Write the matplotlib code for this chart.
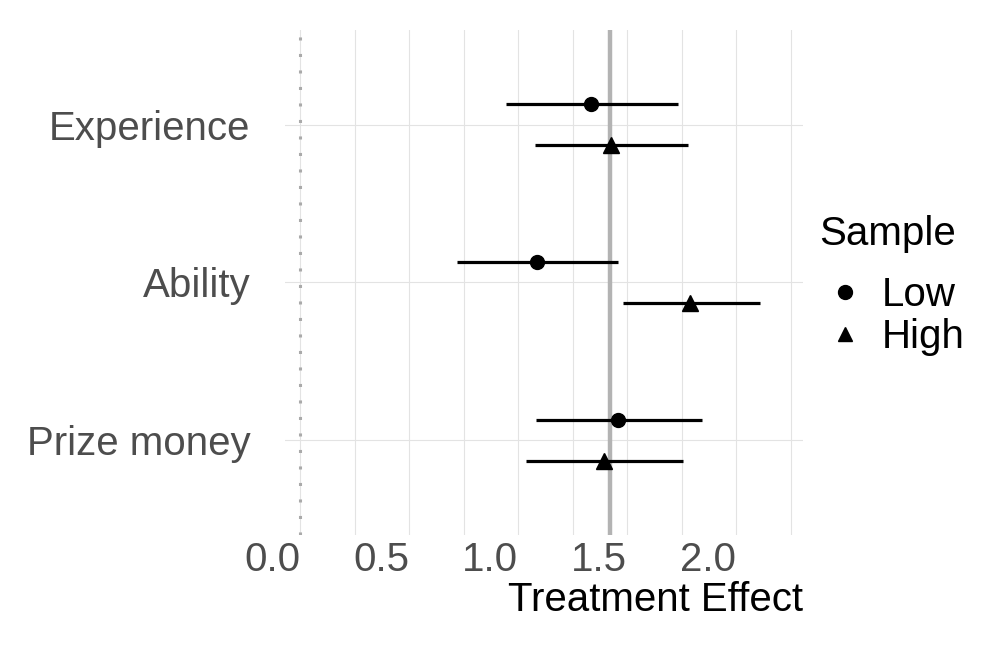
import numpy as np
import matplotlib.pyplot as plt
from matplotlib.lines import Line2D

plt.rcParams['font.family'] = ['Liberation Sans', 'DejaVu Sans']

# Données
categories = ['Prize money', 'Ability', 'Experience']
samples = ['Low', 'High']
low_est = [1.459, 1.087, 1.335]
low_lo = [1.083, 0.720, 0.945]
low_hi = [1.844, 1.459, 1.734]
high_est = [1.394, 1.789, 1.427]
high_lo = [1.037, 1.482, 1.078]
high_hi = [1.757, 2.110, 1.780]
ref_line = 1.42
x_ticks = [0.0, 0.5, 1.0, 1.5, 2.0]
x_labels = ['0.0', '0.5', '1.0', '1.5', '2.0']

fig = plt.figure(figsize=(10, 6.5), dpi=100)
ax = fig.add_axes([0.285, 0.177, 0.518, 0.777])

y = np.arange(1, len(categories) + 1)
dodge = 0.13

# grille
grid_col = '#E3E3E3'
for xv in np.arange(0.0, 2.3, 0.25):
    ax.axvline(xv, color=grid_col, lw=0.8, zorder=0)
for yv in y:
    ax.axhline(yv, color=grid_col, lw=0.8, zorder=0)

ax.axvline(0, color='#AAAAAA', lw=2.2, ls=(0, (1, 4.4)), zorder=1)
ax.axvline(ref_line, color='#B3B3B3', lw=3.2, zorder=1)

ax.hlines(y + dodge, low_lo, low_hi, color='black', lw=2.3, zorder=3)
ax.plot(low_est, y + dodge, 'o', color='black', ms=10, zorder=4)
ax.hlines(y - dodge, high_lo, high_hi, color='black', lw=2.3, zorder=3)
ax.plot(high_est, y - dodge, '^', color='black', ms=11, zorder=4)

ax.set_xlim(-0.069, 2.307)
ax.set_ylim(0.4, 3.6)
ax.set_yticks(y)
ax.set_yticklabels(categories, fontsize=29, color='#4D4D4D')
ax.set_xticks(x_ticks)
ax.set_xticklabels(x_labels, fontsize=29, color='#4D4D4D', ha='right')
ax.tick_params(axis='both', length=0)
ax.tick_params(axis='y', pad=25)
ax.tick_params(axis='x', pad=4)
for s in ax.spines.values():
    s.set_visible(False)

ax.set_xlabel('Treatment Effect', fontsize=29, loc='right', labelpad=2)

# légende
fig.text(0.819, 0.64, 'Sample', fontsize=29, va='center', ha='left')
handles = [Line2D([], [], marker='o', ls='', color='black', ms=10),
           Line2D([], [], marker='^', ls='', color='black', ms=10)]
leg = fig.legend(handles, samples, loc='upper left',
                 bbox_to_anchor=(0.825, 0.575), frameon=False, fontsize=29,
                 handletextpad=0.4, labelspacing=0.1,
                 handlelength=1.0, borderaxespad=0, borderpad=0)

plt.savefig('out.png', dpi=100)
